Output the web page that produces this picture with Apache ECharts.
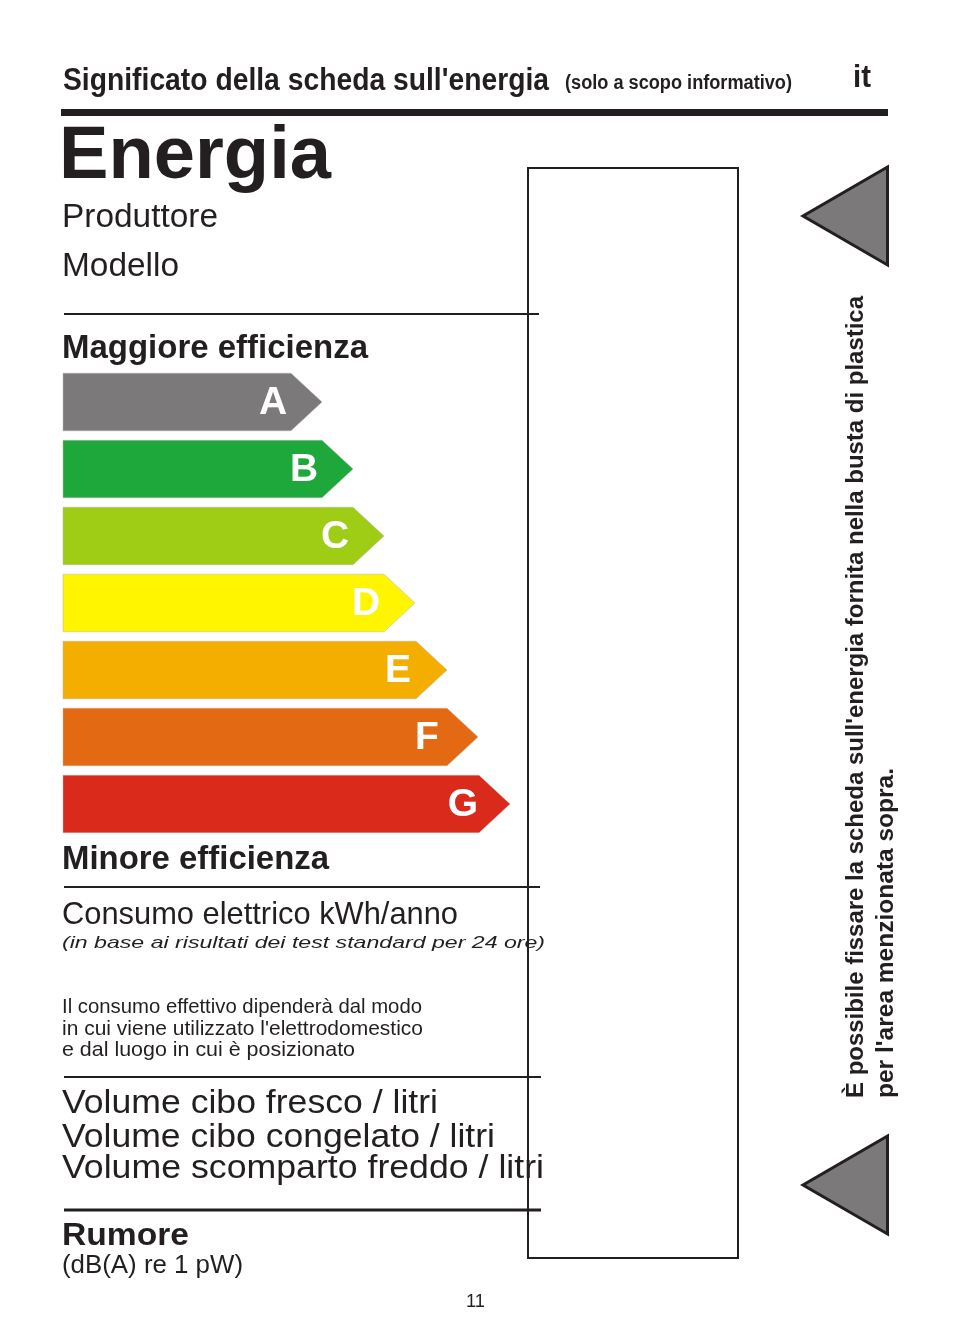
<!DOCTYPE html>
<html lang="it" style="height: 100%">
<head>
<meta charset="utf-8">
<title>Significato della scheda sull'energia</title>
</head>
<body style="height: 100%; margin: 0; background: #fff">
<div id="container" style="height: 100%"></div>

<script type="text/javascript" src="https://cdn.jsdelivr.net/npm/echarts/dist/echarts.min.js"></script>

<script type="text/javascript">
// energy classes, arrow lengths (tip position on the x scale), colours
var classes = ['A', 'B', 'C', 'D', 'E', 'F', 'G'];
var arrowLengths = [259, 290, 321, 352, 384, 415, 447];
var classColors = ['#7b7979', '#1ea83c', '#9fcc14', '#fff500', '#f4ae00', '#e36a12', '#da2a1c'];

var INK = '#231f20';
var FONT = '"Liberation Sans", Arial, sans-serif';
var MID = 0.26; // middle of the text box above the baseline, per px of font size

var measureCtx = document.createElement('canvas').getContext('2d');

// text placed by its alphabetic baseline and squeezed to the width seen on the label
function label(text, x, baseline, size, width, weight, style) {
    var font = (style || 'normal') + ' ' + (weight || 'normal') + ' ' + size + 'px ' + FONT;
    measureCtx.font = font;
    return {
        type: 'text',
        x: x,
        y: baseline - size * MID,
        scaleX: width / measureCtx.measureText(text).width,
        z: 5,
        style: {text: text, x: 0, y: 0, font: font, fill: INK, align: 'left', verticalAlign: 'middle'}
    };
}

// same, reading upwards, starting at the bottom
function upLabel(text, baseline, bottom, size, width) {
    var font = 'bold ' + size + 'px ' + FONT;
    measureCtx.font = font;
    return {
        type: 'text',
        x: baseline - size * MID,
        y: bottom,
        rotation: Math.PI / 2,
        scaleX: width / measureCtx.measureText(text).width,
        z: 5,
        style: {text: text, x: 0, y: 0, font: font, fill: INK, align: 'left', verticalAlign: 'middle'}
    };
}

function rule(x1, x2, y, lw) {
    return {
        type: 'line',
        z: 6,
        shape: {x1: x1, y1: y, x2: x2, y2: y},
        style: {stroke: INK, lineWidth: lw}
    };
}

function triangle(top) {
    return {
        type: 'polygon',
        z: 6,
        shape: {points: [[887.5, top + 1], [803, top + 50], [887.5, top + 99]]},
        style: {fill: '#7b7979', stroke: INK, lineWidth: 3, lineJoin: 'miter'}
    };
}

var graphics = [
    label("Significato della scheda sull'energia", 63, 90, 31, 486, 'bold'),
    label('(solo a scopo informativo)', 565, 89, 20, 227, 'bold'),
    label('it', 853, 87, 31, 18, 'bold'),
    rule(61, 888, 112.5, 7),
    label('Energia', 59, 177, 74, 272, 'bold'),
    label('Produttore', 62, 226, 33, 156),
    label('Modello', 62, 275, 33, 117),
    rule(64, 539, 314, 2),
    label('Maggiore efficienza', 62, 357, 33, 306, 'bold'),
    label('Minore efficienza', 62, 868, 33, 267, 'bold'),
    rule(64, 540, 887, 2),
    label('Consumo elettrico kWh/anno', 62, 923, 32, 396),
    label('(in base ai risultati dei test standard per 24 ore)', 62, 948, 17, 483, 'normal', 'italic'),
    label('Il consumo effettivo dipenderà dal modo', 62, 1013, 21, 360),
    label("in cui viene utilizzato l'elettrodomestico", 62, 1035, 21, 361),
    label('e dal luogo in cui è posizionato', 62, 1056, 21, 293),
    rule(64, 541, 1077, 2),
    label('Volume cibo fresco / litri', 62, 1112, 33, 376),
    label('Volume cibo congelato / litri', 62, 1146, 33, 433),
    label('Volume scomparto freddo / litri', 62, 1177, 33, 482),
    rule(64, 541, 1210, 3),
    label('Rumore', 62, 1245, 31, 127, 'bold'),
    label('(dB(A) re 1 pW)', 62, 1273, 25, 181),
    label('11', 466, 1307, 19, 19),
    {
        type: 'rect',
        z: 7,
        shape: {x: 528, y: 168, width: 210, height: 1090},
        style: {fill: 'none', stroke: INK, lineWidth: 2}
    },
    triangle(166),
    triangle(1135),
    upLabel("È possibile fissare la scheda sull'energia fornita nella busta di plastica", 863, 1098, 24, 802),
    upLabel("per l'area menzionata sopra.", 893, 1098, 24, 330)
];

var myChart = echarts.init(document.getElementById('container'));

var letterNudge = [0, 0, 0, 0, 0, -2, 2];

var option = {
    backgroundColor: '#fff',
    animation: false,
    grid: {left: 63, top: 368.5, width: 447, height: 469},
    xAxis: {type: 'value', min: 0, max: 447, show: false},
    yAxis: {type: 'category', data: classes, inverse: true, show: false},
    graphic: graphics,
    series: [
        {
            type: 'custom',
            clip: false,
            encode: {x: 0, y: 1},
            data: arrowLengths.map(function (v, i) { return [v, i]; }),
            renderItem: function (params, api) {
                var i = api.value(1);
                var tip = api.coord([api.value(0), i]);
                var start = api.coord([0, i]);
                var half = api.size([0, 1])[1] * 0.43;
                var head = tip[0] - 31;
                return {
                    type: 'group',
                    children: [
                        {
                            type: 'polygon',
                            shape: {
                                points: [
                                    [start[0], tip[1] - half],
                                    [head, tip[1] - half],
                                    tip,
                                    [head, tip[1] + half],
                                    [start[0], tip[1] + half]
                                ]
                            },
                            style: {fill: classColors[i], stroke: '#b4b4ac', lineWidth: 0.5}
                        },
                        {
                            type: 'text',
                            style: {
                                text: classes[i],
                                x: tip[0] - 49 + letterNudge[i],
                                y: tip[1] + 1.5,
                                align: 'center',
                                verticalAlign: 'middle',
                                font: 'bold 39px ' + FONT,
                                fill: '#fff'
                            }
                        }
                    ]
                };
            }
        }
    ]
};

myChart.setOption(option);
window.addEventListener('resize', myChart.resize);
</script>
</body>
</html>
